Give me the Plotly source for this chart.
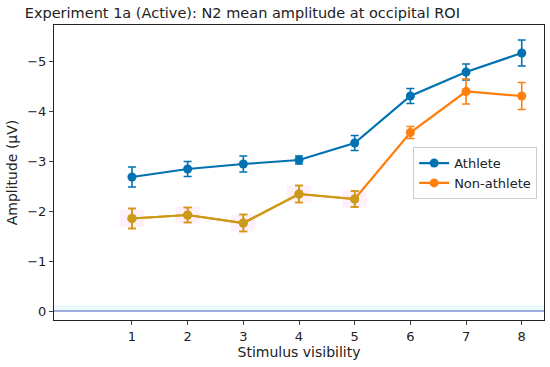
import plotly.graph_objects as go

visibility = [1, 2, 3, 4, 5, 6, 7, 8]
athlete_mean = [-2.68, -2.84, -2.94, -3.02, -3.36, -4.30, -4.78, -5.16]
athlete_err = [0.20, 0.15, 0.16, 0.08, 0.15, 0.15, 0.16, 0.26]
nonathlete_mean = [-1.85, -1.92, -1.76, -2.34, -2.24, -3.57, -4.39, -4.30]
nonathlete_err = [0.20, 0.15, 0.17, 0.17, 0.16, 0.12, 0.25, 0.27]
y_ticks = [0, -1, -2, -3, -4, -5]
y_tick_text = ["0", "\u22121", "\u22122", "\u22123", "\u22124", "\u22125"]

BLUE = "#0072b2"
ORANGE = "#ff7f0e"
GOLD = "#c99b16"

fig = go.Figure()

shapes = []
for x, y in zip(visibility[:5], nonathlete_mean[:5]):
    shapes.append(dict(type="rect", xref="x", yref="y", x0=x - 0.22, x1=x + 0.22,
                       y0=y - 0.17, y1=y + 0.17, fillcolor="#fef1fb", line=dict(width=0),
                       layer="below"))
shapes.append(dict(type="rect", xref="paper", yref="y", x0=0, x1=1, y0=-0.12, y1=0,
                   fillcolor="#eefbfd", line=dict(width=0), layer="below"))
shapes.append(dict(type="line", xref="paper", yref="y", x0=0, x1=1, y0=0, y1=0,
                   line=dict(color="#4a5fc1", width=1), layer="below"))

fig.add_trace(go.Scatter(
    x=visibility, y=athlete_mean, mode="lines+markers", name="Athlete",
    line=dict(color=BLUE, width=2.2), marker=dict(color=BLUE, size=9),
    error_y=dict(type="data", array=athlete_err, color=BLUE, thickness=1.6, width=4),
))
fig.add_trace(go.Scatter(
    x=visibility, y=nonathlete_mean, mode="lines+markers", name="Non-athlete",
    line=dict(color=ORANGE, width=2.2), marker=dict(color=ORANGE, size=9),
    error_y=dict(type="data", array=nonathlete_err, color=ORANGE, thickness=1.6, width=4),
))
fig.add_trace(go.Scatter(
    x=visibility[:5], y=nonathlete_mean[:5], mode="lines+markers", showlegend=False,
    line=dict(color=GOLD, width=2.2), marker=dict(color=GOLD, size=9),
    error_y=dict(type="data", array=nonathlete_err[:5], color=GOLD, thickness=1.6, width=4),
))

fig.update_layout(
    width=550, height=367,
    margin=dict(l=54, r=6, t=25, b=47),
    paper_bgcolor="white", plot_bgcolor="white",
    font=dict(family="DejaVu Sans", size=13, color="#222"),
    title=dict(text="Experiment 1a (Active): N2 mean amplitude at occipital ROI",
               x=0.045, xanchor="left", y=1 - 13 / 367, yanchor="middle",
               font=dict(size=14.5, color="#222")),
    shapes=shapes,
    legend=dict(x=0.986, xanchor="right", y=0.498, yanchor="middle",
                bgcolor="rgba(255,255,255,0.9)", bordercolor="#cccccc", borderwidth=1,
                font=dict(size=13)),
    showlegend=True,
)
fig.update_xaxes(
    title=dict(text="Stimulus visibility", font=dict(size=14), standoff=4),
    range=[-0.4, 8.4], tickvals=visibility, ticks="outside", ticklen=4,
    showline=True, linecolor="#222", linewidth=1, mirror=True,
    showgrid=False, zeroline=False, automargin=False,
)
fig.update_yaxes(
    title=dict(text="Amplitude (\u00b5V)", font=dict(size=14), standoff=6),
    range=[0.18, -5.72], tickvals=y_ticks, ticktext=y_tick_text,
    ticks="outside", ticklen=4,
    showline=True, linecolor="#222", linewidth=1, mirror=True,
    showgrid=False, zeroline=False, automargin=False,
)

fig.write_html("out.html", config={"displayModeBar": False},
               post_script="document.body.style.margin='0';")
